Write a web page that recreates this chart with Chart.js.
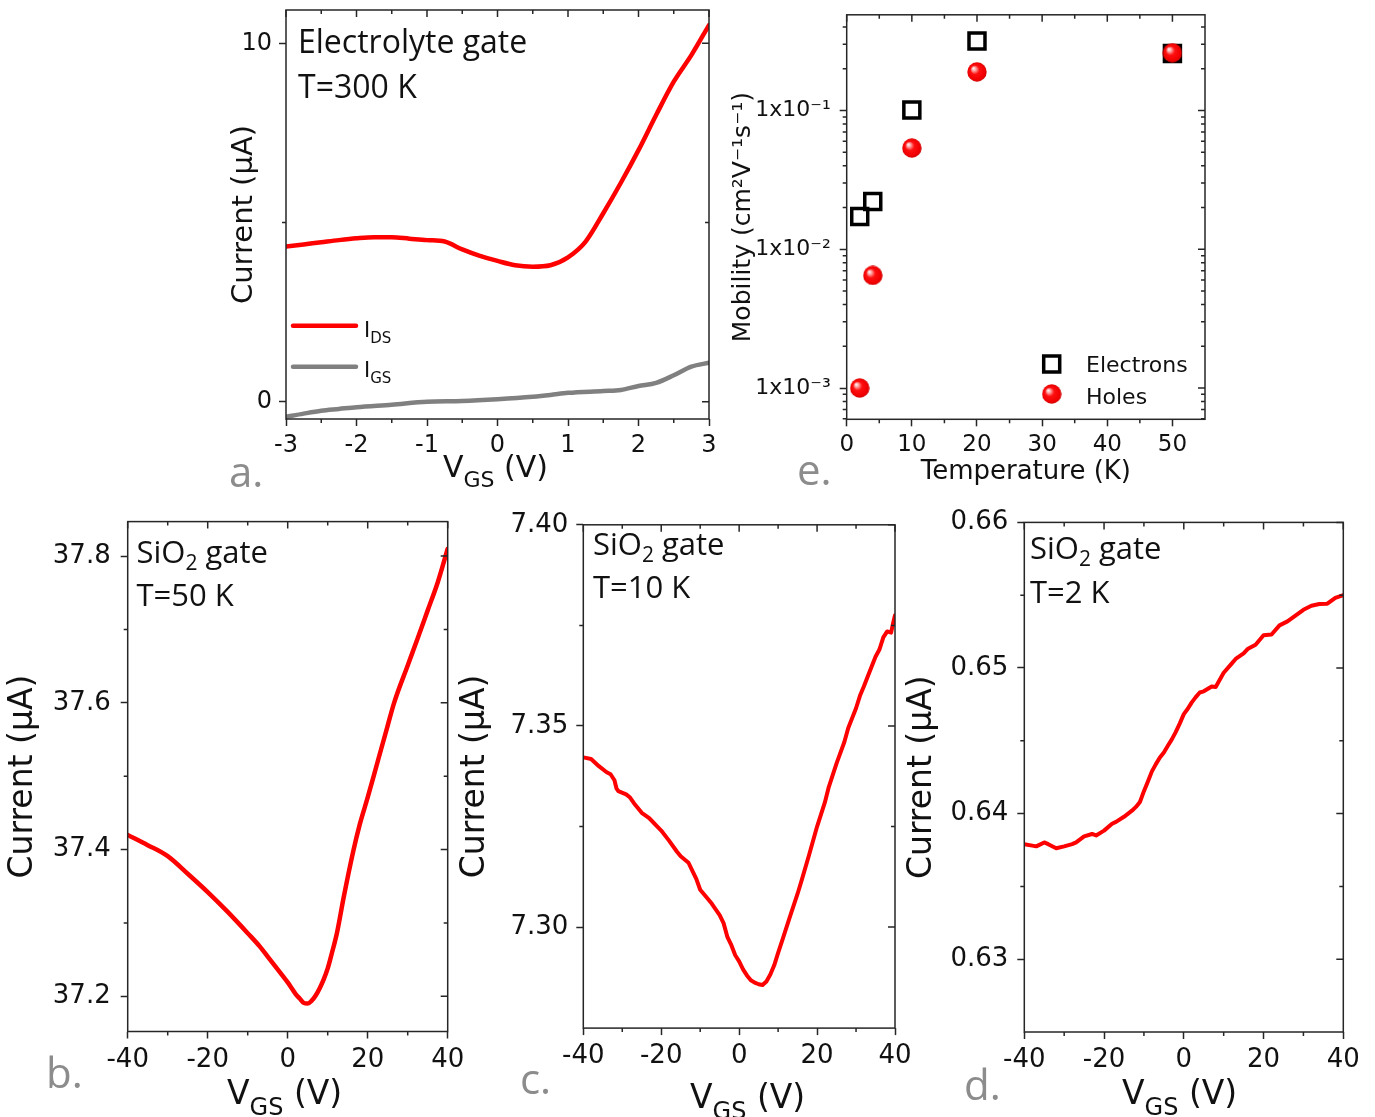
<!DOCTYPE html>
<html>
<head>
<meta charset="utf-8">
<script src="https://cdn.jsdelivr.net/npm/chart.js@4.4.1/dist/chart.umd.min.js"></script>
<style>
html,body{margin:0;padding:0;background:#ffffff;}
body{width:1375px;height:1117px;position:relative;overflow:hidden;}
canvas{position:absolute;}
</style>
</head>
<body>
<canvas id="pa" width="555" height="500" style="left:180px;top:0px"></canvas>
<canvas id="pe" width="655" height="500" style="left:720px;top:0px"></canvas>
<canvas id="pb" width="475" height="617" style="left:0px;top:500px"></canvas>
<canvas id="pc" width="470" height="617" style="left:455px;top:500px"></canvas>
<canvas id="pd" width="475" height="617" style="left:900px;top:500px"></canvas>
<script>
// ===================== DATA =====================
// Panel a: electrolyte gate, T = 300 K
const aVgs = [-3,-2.75,-2.5,-2.25,-2,-1.75,-1.5,-1.25,-1,-0.75,-0.5,-0.25,0,0.25,0.5,0.75,1,1.25,1.5,1.75,2,2.25,2.5,2.75,3];
const aIds = [4.33,4.39,4.45,4.51,4.56,4.59,4.59,4.55,4.51,4.47,4.25,4.07,3.93,3.81,3.77,3.81,4.03,4.47,5.26,6.11,7.02,8.00,8.93,9.67,10.51];
const aIgsV = [-3,-2.75,-2.5,-2.25,-2,-1.5,-1,-0.5,0,0.5,0.75,1,1.5,1.75,2,2.25,2.5,2.75,3];
const aIgs = [-0.42,-0.33,-0.25,-0.20,-0.15,-0.08,0.00,0.02,0.07,0.14,0.19,0.25,0.30,0.33,0.44,0.53,0.74,0.98,1.09];
const aXTicks = [-3,-2,-1,0,1,2,3];
const aXMinor = [-2.5,-1.5,-0.5,0.5,1.5,2.5];
const aYTicks = [0,10];
const aYMinor = [5];

// Panel e: mobility vs temperature
const eTempElectrons = [2,4,10,20,50];
const eMobElectrons = [0.0172,0.0221,0.101,0.317,0.258];
const eTempHoles = [2,4,10,20,50];
const eMobHoles = [0.00100,0.00648,0.0537,0.190,0.261];
const eXTicks = [0,10,20,30,40,50];
const eXMinor = [5,15,25,35,45];
const eYTicks = [0.001,0.01,0.1];
const eYTickLabels = ['1x10\u207B\u00B3','1x10\u207B\u00B2','1x10\u207B\u00B9'];
const eYMinor = [0.0006,0.0007,0.0008,0.0009,0.002,0.003,0.004,0.005,0.006,0.007,0.008,0.009,0.02,0.03,0.04,0.05,0.06,0.07,0.08,0.09,0.2,0.3,0.4];

// Panel b: SiO2 gate, T = 50 K
const bVgs = [-40,-35,-30,-25,-20,-15,-10,-7,-5,-3,-1,0,1,2,3,4,5,6,7,8,9,10,11,12.3,14,16.4,18,20,22.5,25,26.6,30,32.5,35,37.5,40];
const bIds = [37.420,37.406,37.391,37.367,37.342,37.315,37.286,37.268,37.254,37.240,37.226,37.219,37.211,37.203,37.197,37.191,37.190,37.194,37.201,37.211,37.223,37.238,37.258,37.286,37.335,37.398,37.434,37.471,37.520,37.569,37.600,37.651,37.688,37.726,37.764,37.810];
const bXTicks = [-40,-20,0,20,40];
const bXMinor = [-30,-10,10,30];
const bYTicks = [37.2,37.4,37.6,37.8];
const bYMinor = [37.3,37.5,37.7];

// Panel c: SiO2 gate, T = 10 K
const cVgs = [-40,-38,-36,-34,-33,-32,-31.5,-31,-29,-28,-27,-25,-23,-21,-20,-18,-16,-15,-13,-12,-11,-10,-8,-7,-5,-4,-3,-2,-1,0,1,2,3,4,5,6,7,8,9,10,11,12,13,15,16,18,20,22,23,25,27,28,30,31,32,33,35,36,37,38,39,39.5,40];
const cIds = [7.3422,7.3418,7.3400,7.3385,7.3380,7.3365,7.3345,7.3338,7.3330,7.3322,7.3308,7.3284,7.3270,7.3250,7.3240,7.3215,7.3188,7.3176,7.3160,7.3140,7.3120,7.3093,7.3070,7.3058,7.3030,7.3010,7.2975,7.2955,7.2930,7.2915,7.2895,7.2880,7.2868,7.2862,7.2858,7.2856,7.2865,7.2882,7.2905,7.2936,7.2965,7.2995,7.3025,7.3083,7.3115,7.3181,7.3250,7.3310,7.3348,7.3407,7.3460,7.3495,7.3544,7.3575,7.3598,7.3623,7.3672,7.3690,7.3720,7.3735,7.3732,7.3755,7.3775];
const cXTicks = [-40,-20,0,20,40];
const cXMinor = [-30,-10,10,30];
const cYTicks = [7.30,7.35,7.40];
const cYMinor = [7.325,7.375];

// Panel d: SiO2 gate, T = 2 K
const dVgs = [-40,-38,-37,-35,-34,-32,-30,-28,-27,-25,-23,-22,-20,-18,-17,-15,-13,-12,-11,-10,-9,-8,-7,-6,-5,-4,-3,-2,-1,0,1,2,3,4,5,7,8,10,12,13,15,16,18,20,22,24,26,28,30,32,34,36,38,40];
const dIds = [0.63789,0.63780,0.63775,0.63802,0.63790,0.63762,0.63775,0.63790,0.63802,0.63843,0.63860,0.63850,0.63883,0.63930,0.63943,0.63978,0.64020,0.64046,0.64080,0.64154,0.64220,0.64290,0.64340,0.64385,0.64420,0.64466,0.64510,0.64561,0.64620,0.64683,0.64720,0.64764,0.64800,0.64832,0.64840,0.64873,0.64870,0.64967,0.65030,0.65062,0.65100,0.65130,0.65160,0.65225,0.65230,0.65293,0.65320,0.65360,0.65400,0.65428,0.65440,0.65442,0.65482,0.65501];
const dXTicks = [-40,-20,0,20,40];
const dXMinor = [-30,-10,10,30];
const dYTicks = [0.63,0.64,0.65,0.66];
const dYMinor = [0.635,0.645,0.655];

// ===================== STYLE / HELPERS =====================
const AX = '#262626';
const RED = '#ff0000';
const GRAY = '#808080';
const LETTER = '#8c8c8c';
const NUMFONT = 'DejaVu Sans';
const TXTFONT = 'Open Sans';

function makeSphere(d) {
  const c = document.createElement('canvas');
  c.width = d; c.height = d;
  const g = c.getContext('2d');
  const r = d / 2;
  const grad = g.createRadialGradient(r * 0.62, r * 0.62, 0, r, r, r);
  grad.addColorStop(0, '#ffffff');
  grad.addColorStop(0.18, '#ffb0b0');
  grad.addColorStop(0.45, '#ff1010');
  grad.addColorStop(0.85, '#f00000');
  grad.addColorStop(1, '#c80000');
  g.fillStyle = grad;
  g.beginPath(); g.arc(r, r, r - 0.3, 0, Math.PI * 2); g.fill();
  return c;
}
const sphere = makeSphere(20);

function drawRich(ctx, x, y, t) {
  let cx = x;
  ctx.fillStyle = t.color || '#111';
  ctx.textBaseline = 'alphabetic';
  ctx.textAlign = 'left';
  t.parts.forEach(p => {
    const txt = p[0], mode = p[1];
    let size = t.size, dy = 0;
    if (mode === 'sub') { size = t.subSize; dy = t.subDy; }
    ctx.font = size + 'px "' + t.family + '"';
    ctx.fillText(txt, cx, y + dy);
    cx += ctx.measureText(txt).width;
  });
}

const framePlugin = {
  id: 'frame',
  afterDraw(chart) {
    const o = chart.options.plugins.frame || {};
    const ctx = chart.ctx;
    const ca = chart.chartArea;
    const xs = chart.scales.x, ys = chart.scales.y;
    ctx.save();
    ctx.strokeStyle = AX;
    ctx.lineWidth = 1.5;
    ctx.strokeRect(ca.left, ca.top, ca.right - ca.left, ca.bottom - ca.top);
    const MJ = 7, MN = 4;
    ctx.beginPath();
    xs.ticks.forEach(t => { const p = xs.getPixelForValue(t.value); ctx.moveTo(p, ca.top); ctx.lineTo(p, ca.top + MJ); });
    (o.xMinor || []).forEach(v => { const p = xs.getPixelForValue(v); ctx.moveTo(p, ca.bottom); ctx.lineTo(p, ca.bottom + MN); ctx.moveTo(p, ca.top); ctx.lineTo(p, ca.top + MN); });
    ys.ticks.forEach(t => { const p = ys.getPixelForValue(t.value); ctx.moveTo(ca.right, p); ctx.lineTo(ca.right - MJ, p); });
    (o.yMinor || []).forEach(v => { const p = ys.getPixelForValue(v); ctx.moveTo(ca.left, p); ctx.lineTo(ca.left - MN, p); ctx.moveTo(ca.right, p); ctx.lineTo(ca.right - MN, p); });
    ctx.stroke();
    // legend samples
    (o.legend || []).forEach(it => {
      const ds = chart.data.datasets[it.ds];
      const lx = it.x - o.ox, ly = it.y - o.oy;
      if (it.kind === 'line') {
        ctx.strokeStyle = ds.borderColor; ctx.lineWidth = ds.borderWidth; ctx.lineCap = 'round';
        ctx.beginPath(); ctx.moveTo(lx, ly); ctx.lineTo(lx + it.len, ly); ctx.stroke();
      } else if (it.kind === 'rect') {
        ctx.strokeStyle = ds.pointBorderColor; ctx.lineWidth = ds.pointBorderWidth;
        ctx.strokeRect(lx - it.half, ly - it.half, it.half * 2, it.half * 2);
      } else if (it.kind === 'image') {
        ctx.drawImage(ds.pointStyle, lx - ds.pointStyle.width / 2, ly - ds.pointStyle.height / 2);
      }
    });
    (o.texts || []).forEach(t => drawRich(ctx, t.x - o.ox, t.y - o.oy, t));
    ctx.restore();
  }
};

function xy(xs, ys) { return xs.map((x, i) => ({ x: x, y: ys[i] })); }

function lineDs(xs, ys, color, width, smooth) {
  return {
    data: xy(xs, ys), showLine: true, borderColor: color, backgroundColor: color,
    borderWidth: width, pointRadius: 0, pointHoverRadius: 0, fill: false,
    tension: smooth ? 0.4 : 0, cubicInterpolationMode: smooth ? 'monotone' : 'default',
    borderCapStyle: 'round', borderJoinStyle: 'round'
  };
}

function scaleCfg(s) {
  return {
    type: s.type || 'linear', min: s.min, max: s.max,
    position: s.isX ? 'bottom' : 'left',
    afterBuildTicks: sc => { sc.ticks = s.ticks.map(v => ({ value: v })); },
    afterFit: sc => {
      if (s.isX) { sc.height = s.fixed; sc.paddingLeft = 0; sc.paddingRight = 0; }
      else { sc.width = s.fixed; sc.paddingTop = 0; sc.paddingBottom = 0; }
    },
    grid: { display: true, drawOnChartArea: false, drawTicks: true, tickLength: 7, tickColor: AX, tickWidth: 1.5, color: AX },
    border: { display: false },
    ticks: { color: '#111', font: { family: NUMFONT, size: s.size }, padding: s.pad, maxRotation: 0, minRotation: 0, autoSkip: false, callback: s.fmt },
    title: s.title || { display: false }
  };
}

function yTitle(text, size, padTop) {
  return { display: true, text: text, color: '#111', font: { family: NUMFONT, size: size }, padding: { top: padTop, bottom: 0 } };
}

function vgsTitle(x, y, size, subSize, subDy) {
  return { x: x, y: y, family: NUMFONT, size: size, subSize: subSize, subDy: subDy, color: '#111', parts: [['V'], ['GS', 'sub'], [' (V)']] };
}
function note(x, y, parts, size) {
  return { x: x, y: y, family: TXTFONT, size: size, subSize: Math.round(size * 0.68), subDy: 7, color: '#111', parts: parts };
}
function letter(x, y, txt) {
  return { x: x, y: y, family: TXTFONT, size: 42, color: LETTER, parts: [[txt]] };
}

function build(id, box, area, datasets, scales, frame) {
  const cv = document.getElementById(id);
  frame.ox = box.x; frame.oy = box.y;
  return new Chart(cv, {
    type: 'scatter',
    data: { datasets: datasets },
    options: {
      responsive: false, animation: false, devicePixelRatio: 1,
      layout: { padding: { left: 0, bottom: 0, top: area.t - box.y, right: box.x + box.w - area.r } },
      plugins: { legend: { display: false }, tooltip: { enabled: false }, frame: frame },
      scales: scales
    },
    plugins: [framePlugin]
  });
}

// ===================== PANEL a =====================
(function () {
  const box = { x: 180, y: 0, w: 555, h: 500 };
  const area = { l: 286, t: 10, r: 709, b: 419 };
  build('pa', box, area,
    [lineDs(aVgs, aIds, RED, 4.5, true), lineDs(aIgsV, aIgs, GRAY, 4.5, true)],
    {
      x: scaleCfg({ isX: true, min: -3, max: 3, ticks: aXTicks, fmt: v => String(v), size: 24, pad: 5, fixed: box.y + box.h - area.b }),
      y: scaleCfg({ min: -0.48, max: 10.93, ticks: aYTicks, fmt: v => String(v), size: 24, pad: 7, fixed: area.l - box.x, title: yTitle('Current (µA)', 29, 47) })
    },
    {
      xMinor: aXMinor, yMinor: aYMinor,
      legend: [{ ds: 0, kind: 'line', x: 293, y: 325.7, len: 63 }, { ds: 1, kind: 'line', x: 293, y: 366.7, len: 63 }],
      texts: [
        note(298, 53, [['Electrolyte gate']], 32),
        note(298, 98, [['T=300 K']], 32),
        { x: 364, y: 337, family: NUMFONT, size: 21, subSize: 15, subDy: 6, color: '#111', parts: [['I'], ['DS', 'sub']] },
        { x: 364, y: 377, family: NUMFONT, size: 21, subSize: 15, subDy: 6, color: '#111', parts: [['I'], ['GS', 'sub']] },
        vgsTitle(443, 477, 30, 22, 10),
        letter(229, 487, 'a.')
      ]
    });
})();

// ===================== PANEL e =====================
(function () {
  const box = { x: 720, y: 0, w: 655, h: 500 };
  const area = { l: 846.7, t: 11.5, r: 1205, b: 419.3 };
  build('pe', box, area,
    [
      { data: xy(eTempElectrons, eMobElectrons), pointStyle: 'rect', pointRadius: 11.3, pointHoverRadius: 11.3, pointBorderWidth: 3.5, pointBorderColor: '#000', pointBackgroundColor: 'rgba(255,255,255,0)', borderColor: '#000', showLine: false, order: 2 },
      { data: xy(eTempHoles, eMobHoles), pointStyle: sphere, pointRadius: 10, pointHoverRadius: 10, pointBorderColor: RED, pointBackgroundColor: RED, borderColor: RED, showLine: false, order: 1 }
    ],
    {
      x: scaleCfg({ isX: true, min: 0, max: 55, ticks: eXTicks, fmt: v => String(v), size: 23, pad: 5, fixed: box.y + box.h - area.b,
        title: { display: true, text: 'Temperature (K)', color: '#111', font: { family: NUMFONT, size: 26 }, padding: { top: 0, bottom: 12 } } }),
      y: scaleCfg({ type: 'logarithmic', min: 0.000595, max: 0.49, ticks: eYTicks, fmt: (v, i) => eYTickLabels[i], size: 22, pad: 9, fixed: area.l - box.x,
        title: yTitle('Mobility (cm\u00B2V\u207B\u00B9s\u207B\u00B9)', 25, 8) })
    },
    {
      xMinor: eXMinor, yMinor: eYMinor,
      legend: [{ ds: 0, kind: 'rect', x: 1051.7, y: 364, half: 8 }, { ds: 1, kind: 'image', x: 1051.7, y: 394 }],
      texts: [
        { x: 1086, y: 371.5, family: NUMFONT, size: 22, color: '#111', parts: [['Electrons']] },
        { x: 1086, y: 403.5, family: NUMFONT, size: 22, color: '#111', parts: [['Holes']] },
        letter(797, 485, 'e.')
      ]
    });
})();

// ===================== PANEL b =====================
(function () {
  const box = { x: 0, y: 500, w: 475, h: 617 };
  const area = { l: 127.7, t: 521.6, r: 447.7, b: 1031.5 };
  build('pb', box, area,
    [lineDs(bVgs, bIds, RED, 4.5, true)],
    {
      x: scaleCfg({ isX: true, min: -40, max: 40, ticks: bXTicks, fmt: v => String(v), size: 26, pad: 6, fixed: box.y + box.h - area.b }),
      y: scaleCfg({ min: 37.152, max: 37.847, ticks: bYTicks, fmt: v => v.toFixed(1), size: 26, pad: 10, fixed: area.l - box.x, title: yTitle('Current (µA)', 33, 4) })
    },
    {
      xMinor: bXMinor, yMinor: bYMinor,
      texts: [
        note(136.5, 563, [['SiO'], ['2', 'sub'], [' gate']], 31),
        note(136.5, 606, [['T=50 K']], 31),
        vgsTitle(227, 1104, 33, 24, 11),
        letter(46, 1088, 'b.')
      ]
    });
})();

// ===================== PANEL c =====================
(function () {
  const box = { x: 455, y: 500, w: 470, h: 617 };
  const area = { l: 583.3, t: 524.8, r: 895, b: 1028.1 };
  build('pc', box, area,
    [lineDs(cVgs, cIds, RED, 4, false)],
    {
      x: scaleCfg({ isX: true, min: -40, max: 40, ticks: cXTicks, fmt: v => String(v), size: 26, pad: 6, fixed: box.y + box.h - area.b }),
      y: scaleCfg({ min: 7.2749, max: 7.40, ticks: cYTicks, fmt: v => v.toFixed(2), size: 26, pad: 8, fixed: area.l - box.x, title: yTitle('Current (µA)', 33, 1) })
    },
    {
      xMinor: cXMinor, yMinor: cYMinor,
      texts: [
        note(593, 555, [['SiO'], ['2', 'sub'], [' gate']], 31),
        note(593, 598, [['T=10 K']], 31),
        vgsTitle(690, 1108, 33, 24, 11),
        letter(520, 1094, 'c.')
      ]
    });
})();

// ===================== PANEL d =====================
(function () {
  const box = { x: 900, y: 500, w: 475, h: 617 };
  const area = { l: 1024.3, t: 522.4, r: 1343.3, b: 1032 };
  build('pd', box, area,
    [lineDs(dVgs, dIds, RED, 4, false)],
    {
      x: scaleCfg({ isX: true, min: -40, max: 40, ticks: dXTicks, fmt: v => String(v), size: 26, pad: 6, fixed: box.y + box.h - area.b }),
      y: scaleCfg({ min: 0.625, max: 0.66, ticks: dYTicks, fmt: v => v.toFixed(2), size: 26, pad: 9, fixed: area.l - box.x, title: yTitle('Current (µA)', 33, 3) })
    },
    {
      xMinor: dXMinor, yMinor: dYMinor,
      texts: [
        note(1030, 559, [['SiO'], ['2', 'sub'], [' gate']], 31),
        note(1030, 603, [['T=2 K']], 31),
        vgsTitle(1122, 1104, 33, 24, 11),
        letter(964, 1100, 'd.')
      ]
    });
})();
</script>
</body>
</html>
